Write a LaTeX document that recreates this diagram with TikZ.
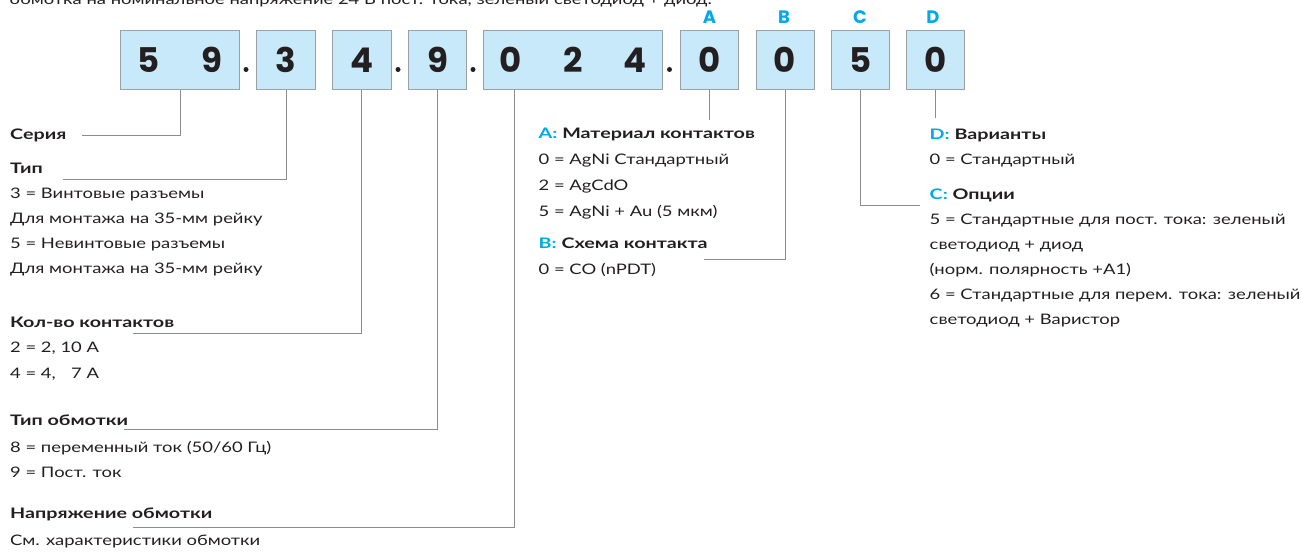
\documentclass[tikz,border=0pt]{standalone}
\usepackage{fontspec}
\setmainfont{Lato}[FakeStretch=1.27, BoldFeatures={FakeStretch=1.36}]
\newfontfamily\digitfont{Poppins}
\definecolor{boxfill}{RGB}{200,233,249}
\definecolor{boxdraw}{RGB}{155,160,165}
\definecolor{leadc}{RGB}{140,140,140}
\definecolor{ink}{RGB}{35,31,32}
\definecolor{cyanc}{RGB}{0,169,232}
\begin{document}
\begin{tikzpicture}[x=1pt,y=-1pt,
  txt/.style={anchor=base west, inner sep=0pt, font=\fontsize{14.5}{25}\selectfont, text=ink},
  hd/.style={anchor=base west, inner sep=0pt, font=\fontsize{14.5}{25}\selectfont\bfseries, text=ink},
  cell/.style={draw=boxdraw, fill=boxfill, line width=0.9pt, minimum height=58.6pt, inner sep=0pt, font=\digitfont\bfseries\fontsize{34}{34}\selectfont, text=ink},
  lead/.style={draw=leadc, line width=0.9pt},
  tag/.style={font=\digitfont\bfseries\fontsize{18}{18}\selectfont, text=cyanc, inner sep=0pt},
  dotmark/.style={circle, fill=ink, inner sep=0pt, minimum size=5pt}]
\useasboundingbox (0,0) rectangle (1302,553);
% top cropped line
\node[txt, anchor=base east] (top) at (712,5) {обмотка на номинальное напряжение 24 В пост. тока, зеленый светодиод + диод.};
% code cells
\node[cell, minimum width=118.6pt] (b59) at (180,60) {5\hspace{41pt}9};
\node[cell, minimum width=58.6pt] (b3) at (286,60) {3};
\node[cell, minimum width=58.6pt] (b4) at (361.7,60) {4};
\node[cell, minimum width=58.6pt] (b9) at (437.5,60) {9};
\node[cell, minimum width=179pt] (b024) at (573.2,60) {0\hspace{41pt}2\hspace{41pt}4};
\node[cell, minimum width=58pt] (bA) at (709.3,60) {0};
\node[cell, minimum width=58pt] (bB) at (785,60) {0};
\node[cell, minimum width=58pt] (bC) at (860.7,60) {5};
\node[cell, minimum width=58pt] (bD) at (935.8,60) {0};
% dots
\node[dotmark] (p1) at (246,69.5) {};
\node[dotmark] (p2) at (398,69.5) {};
\node[dotmark] (p3) at (473,69.5) {};
\node[dotmark] (p4) at (669.5,69.5) {};
% tags
\node[tag] (tA) at (709.5,17) {A};
\node[tag] (tB) at (784,17) {B};
\node[tag] (tC) at (860,17) {C};
\node[tag] (tD) at (933,17) {D};
% left column
\node[hd] (ser) at (10,139.5) {Серия};
\node[hd] (tip) at (10,174) {Тип};
\node[txt] (tip1) at (10,199) {3 = Винтовые разъемы};
\node[txt] (tip2) at (10,224) {Для монтажа на 35-мм рейку};
\node[txt] (tip3) at (10,249) {5 = Невинтовые разъемы};
\node[txt] (tip4) at (10,274) {Для монтажа на 35-мм рейку};
\node[hd] (kol) at (10,327.5) {Кол-во контактов};
\node[txt] (kol1) at (10,353) {2 = 2, 10 А};
\node[txt] (kol2) at (10,379) {4 = 4, \phantom{1}7 А};
\node[hd] (obm) at (10,425) {Тип обмотки};
\node[txt] (obm1) at (10,452.5) {8 = переменный ток (50/60 Гц)};
\node[txt] (obm2) at (10,477) {9 = Пост. ток};
\node[hd] (nap) at (10,518.5) {Напряжение обмотки};
\node[txt] (nap1) at (10,545) {См. характеристики обмотки};
% middle column
\node[hd] (mA) at (538.5,139) {{\color{cyanc}A:} Материал контактов};
\node[txt] (mA1) at (538.5,165) {0 = AgNi Стандартный};
\node[txt] (mA2) at (538.5,191) {2 = AgCdO};
\node[txt] (mA3) at (538.5,216.5) {5 = AgNi + Au (5 мкм)};
\node[hd] (mB) at (538.5,249) {{\color{cyanc}B:} Схема контакта};
\node[txt] (mB1) at (538.5,275) {0 = CO (nPDT)};
% right column
\node[hd] (rD) at (929.5,140) {{\color{cyanc}D:} Варианты};
\node[txt] (rD1) at (929.5,165) {0 = Стандартный};
\node[hd] (rC) at (929.5,199.5) {{\color{cyanc}C:} Опции};
\node[txt] (rC1) at (929.5,225) {5 = Стандартные для пост. тока: зеленый};
\node[txt] (rC2) at (929.5,250) {светодиод + диод};
\node[txt] (rC3) at (929.5,275) {(норм. полярность +A1)};
\node[txt] (rC4) at (929.5,300) {6 = Стандартные для перем. тока: зеленый};
\node[txt] (rC5) at (929.5,325) {светодиод + Варистор};
% leader end points
\coordinate (eSer) at (82,135);
\coordinate (eTip) at (63,179);
\coordinate (eKol) at (133,333);
\coordinate (eObm) at (124,429);
\coordinate (eNap) at (133,527);
\coordinate (eA) at (709.3,120);
\coordinate (eB) at (704,259);
\coordinate (eC) at (919.5,205);
\coordinate (eD) at (935.8,118);
% leaders
\draw[lead] (b59.south) |- (eSer);
\draw[lead] (b3.south) |- (eTip);
\draw[lead] (b4.south) |- (eKol);
\draw[lead] (b9.south) |- (eObm);
\draw[lead] ([xshift=-59.2pt]b024.south) |- (eNap);
\draw[lead] (bA.south) -- (eA);
\draw[lead] (bB.south) |- (eB);
\draw[lead] (bC.south) |- (eC);
\draw[lead] (bD.south) -- (eD);
\end{tikzpicture}
\end{document}
